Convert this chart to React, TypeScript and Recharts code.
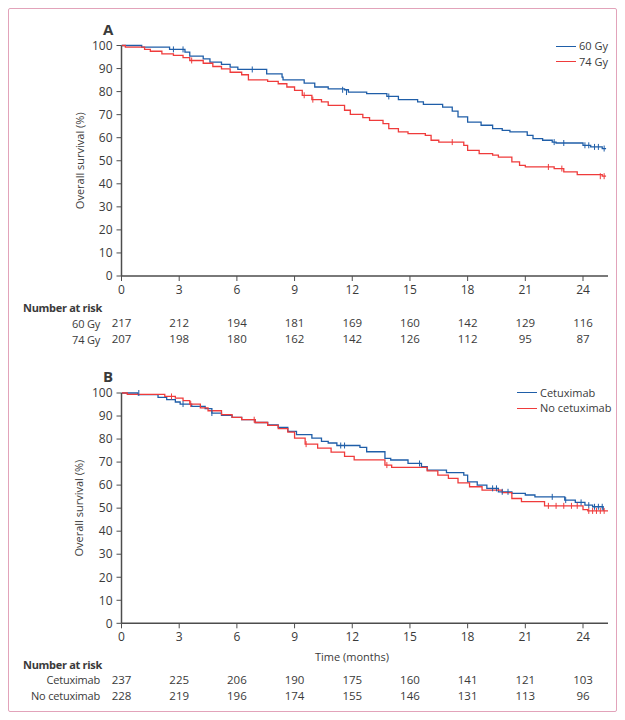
import React from 'react';
import { ComposedChart, Line, Scatter, XAxis, YAxis, Label } from 'recharts';

const FONT = '"Open Sans", "Noto Sans", sans-serif';
const TXT = '#3a3a3a';
const AXIS = '#4d4d4d';
const BLUE = '#1f5ea8';
const RED = '#ef3b3b';

const monthTicks = [0, 3, 6, 9, 12, 15, 18, 21, 24];
const survivalTicks = [0, 10, 20, 30, 40, 50, 60, 70, 80, 90, 100];

// Panel A: 60 Gy vs 74 Gy
const gy60Time = [0, 1.05, 2.5, 3.3, 3.55, 4.25, 4.6, 5.2, 5.65, 6.05, 7.55, 8.35, 8.4, 9.5, 10.05, 10.75, 11.6, 11.8, 12.75, 13.8, 14.4, 15.4, 15.7, 16.7, 17.2, 17.5, 18.0, 18.7, 19.3, 19.8, 20.2, 21.1, 21.4, 21.9, 22.4, 22.6, 24.0, 24.4, 25.0, 25.2];
const gy60Surv = [100, 99.3, 98.3, 97.1, 95.4, 94.2, 92.8, 91.8, 90.6, 89.6, 87.7, 86.3, 85.1, 83.7, 82, 81.2, 80.8, 79.8, 79.1, 77.9, 76.5, 75.5, 74.5, 73.3, 71.5, 69, 66.8, 65.4, 63.9, 63.2, 62.5, 61, 59.6, 58.9, 58.1, 57.7, 56.7, 56, 55.3, 55.3];
const gy60CensorTime = [2.7, 3.2, 6.8, 11.5, 11.7, 13.9, 22.5, 23.0, 24.1, 24.3, 24.6, 24.8, 25.1];
const gy60CensorSurv = [98.3, 98.3, 89.6, 80.8, 79.8, 77.9, 58.1, 57.7, 56.7, 56.7, 56, 56, 55.3];

const gy74Time = [0, 0.2, 1.2, 1.5, 2.1, 2.7, 3.2, 3.55, 4.25, 4.75, 5.2, 5.65, 6.25, 6.6, 7.6, 8.15, 8.6, 9.0, 9.4, 9.9, 10.4, 10.75, 11.6, 11.9, 12.55, 12.9, 13.6, 13.9, 14.4, 14.9, 15.8, 16.1, 16.5, 17.8, 18.0, 18.6, 19.3, 19.6, 20.3, 20.7, 21.0, 22.5, 23.0, 23.7, 25.0, 25.2];
const gy74Surv = [100, 99.3, 98.3, 97.5, 96.4, 95.7, 94.7, 93.5, 92.3, 90.9, 89.9, 88.4, 87.3, 85.1, 84.4, 83.4, 82, 80.5, 78.4, 76.5, 75.5, 74, 71.9, 70.1, 68.7, 67.5, 66.1, 63.9, 62.5, 61.8, 61, 58.9, 58.1, 56.7, 54.5, 53.1, 52.4, 51.6, 49.5, 48, 47.3, 46.6, 45.2, 44, 43.3, 43.3];
const gy74CensorTime = [3.65, 9.5, 9.95, 17.2, 22.2, 22.9, 24.9, 25.1];
const gy74CensorSurv = [93.5, 78.4, 76.5, 58.1, 47.3, 46.6, 43.3, 43.3];

const gy60AtRisk = [217, 212, 194, 181, 169, 160, 142, 129, 116];
const gy74AtRisk = [207, 198, 180, 162, 142, 126, 112, 95, 87];

// Panel B: cetuximab vs no cetuximab
const cetuxTime = [0, 0.85, 1.9, 2.35, 2.8, 3.05, 3.65, 4.35, 4.7, 5.2, 5.75, 6.25, 6.95, 7.6, 8.15, 8.65, 9.1, 9.9, 10.4, 10.75, 11.2, 12.4, 12.75, 13.7, 14.0, 14.9, 15.6, 15.9, 16.9, 17.8, 18.0, 18.5, 19.0, 19.6, 20.3, 21.0, 21.5, 23.05, 23.6, 24.1, 24.5, 25.05, 25.1];
const cetuxSurv = [100, 99.3, 98.1, 97.1, 96.1, 95.2, 94.2, 93.2, 91.3, 90.3, 89.4, 88.4, 87.2, 86.2, 85.1, 83.3, 81.9, 80.4, 79, 78.3, 77.2, 76.4, 74.5, 71.6, 70.9, 69.4, 68, 66.5, 65.4, 64.3, 61.4, 60, 58.6, 57.1, 56.4, 55.7, 54.9, 53.5, 52.5, 51.3, 50.6, 49.1, 49.1];
const cetuxCensorTime = [0.9, 3.2, 4.7, 11.4, 11.6, 15.5, 19.3, 19.5, 19.8, 20.1, 22.4, 23.1, 23.9, 24.3, 24.6, 24.8, 25.0];
const cetuxCensorSurv = [100, 95.2, 91.3, 77.2, 77.2, 69.4, 58.6, 58.6, 57.1, 57.1, 54.9, 53.5, 52.5, 51.3, 50.6, 50.6, 50.6];

const noCetuxTime = [0, 0.3, 2.25, 2.8, 3.2, 3.55, 4.1, 4.5, 5.2, 5.75, 6.25, 6.95, 7.6, 8.15, 8.65, 9.0, 9.55, 10.2, 10.9, 11.6, 12.1, 13.7, 14.05, 15.9, 16.45, 17.0, 17.5, 18.1, 18.75, 19.8, 20.3, 20.8, 22.0, 24.0, 24.25, 25.3];
const noCetuxSurv = [100, 99.4, 98.5, 97.8, 96.7, 95.2, 93.5, 92.3, 90.6, 89.4, 88.4, 87.2, 85.9, 84.5, 83, 80.4, 77.8, 76.1, 74.3, 72.5, 71, 68.7, 67.7, 66.2, 64.3, 62.9, 61, 59.3, 57.8, 56.7, 54.2, 52.8, 51, 49.4, 48.8, 48.8];
const noCetuxCensorTime = [2.6, 3.6, 6.9, 9.6, 13.8, 22.2, 22.6, 23.0, 23.4, 23.7, 24.3, 24.5, 24.7, 24.9, 25.1];
const noCetuxCensorSurv = [98.5, 95.2, 88.4, 77.8, 68.7, 51, 51, 51, 51, 51, 48.8, 48.8, 48.8, 48.8, 48.8];

const cetuxAtRisk = [237, 225, 206, 190, 175, 160, 141, 121, 103];
const noCetuxAtRisk = [228, 219, 196, 174, 155, 146, 131, 113, 96];

const toPoints = (time: number[], surv: number[]) => time.map((t, i) => ({ t, s: surv[i] }));

interface Series {
  name: string;
  color: string;
  time: number[];
  surv: number[];
  censorTime: number[];
  censorSurv: number[];
  atRisk: number[];
}

interface PanelProps {
  letter: string;
  top: number;
  height: number;
  marginTop: number;
  xAxisHeight: number;
  marginBottom: number;
  series: Series[];
  riskOffsets: number[];
  legendLeft: number;
  legendTop: number;
  riskHeaderY: number;
  riskRowY: number[];
  timeLabelY?: number;
}

function Panel(p: PanelProps) {
  const renderTick = (props: any) => {
    const { x, y, payload } = props;
    const idx = monthTicks.indexOf(payload.value);
    return (
      <g>
        <text x={x} y={y + 10.8} textAnchor="middle" fontSize={12} fill={TXT} fontFamily={FONT}>
          {payload.value}
        </text>
        {p.series.map((s, k) => (
          <text key={s.name} x={x} y={y + p.riskOffsets[k]} textAnchor="middle" fontSize={11.5} fill={TXT} fontFamily={FONT}>
            {s.atRisk[idx]}
          </text>
        ))}
      </g>
    );
  };

  const renderYLabel = (props: any) => {
    const vb = props.viewBox || { x: 0, y: p.marginTop, width: 121.5, height: 230 };
    const cx = 79;
    const cy = vb.y + vb.height / 2;
    return (
      <text x={cx} y={cy} transform={`rotate(-90 ${cx} ${cy})`} textAnchor="middle" dominantBaseline="central" fontSize={11} fill={TXT} fontFamily={FONT}>
        Overall survival (%)
      </text>
    );
  };

  const textStyle: React.CSSProperties = { position: 'absolute', fontFamily: FONT, color: TXT, fontSize: 11, lineHeight: '14px', whiteSpace: 'nowrap' };

  return (
    <>
      <div style={{ position: 'absolute', left: 0, top: p.top, width: 625, height: p.height }}>
        <ComposedChart width={625} height={p.height} margin={{ top: p.marginTop, right: 17, left: 0, bottom: p.marginBottom }}>
          <XAxis
            type="number"
            dataKey="t"
            domain={[0, 25.3]}
            ticks={monthTicks}
            allowDataOverflow
            height={p.xAxisHeight}
            axisLine={{ stroke: AXIS, strokeWidth: 1.5 }}
            tickLine={{ stroke: AXIS, strokeWidth: 1 }}
            tickSize={5}
            tickMargin={2}
            tick={renderTick}
            interval={0}
          />
          <YAxis
            type="number"
            domain={[0, 100]}
            ticks={survivalTicks}
            width={121.5}
            axisLine={{ stroke: AXIS, strokeWidth: 1.5 }}
            tickLine={{ stroke: AXIS, strokeWidth: 1 }}
            tickSize={5}
            tickMargin={4}
            tick={{ fontSize: 12, fill: TXT, fontFamily: FONT }}
            interval={0}
          >
            <Label content={renderYLabel} />
          </YAxis>
          {p.series.map((s) => (
            <Line
              key={s.name}
              data={toPoints(s.time, s.surv)}
              dataKey="s"
              type="stepAfter"
              stroke={s.color}
              strokeWidth={1.3}
              dot={false}
              activeDot={false}
              isAnimationActive={false}
            />
          ))}
          {p.series.map((s) => (
            <Scatter
              key={s.name + '-c'}
              data={toPoints(s.censorTime, s.censorSurv)}
              dataKey="s"
              isAnimationActive={false}
              shape={(sp: any) => (
                <line x1={sp.cx} x2={sp.cx} y1={sp.cy - 3} y2={sp.cy + 3} stroke={s.color} strokeWidth={1} />
              )}
            />
          ))}
        </ComposedChart>
      </div>

      <div style={{ ...textStyle, left: 103, top: p.top + p.marginTop - 26, fontSize: 15, fontWeight: 700, lineHeight: '18px' }}>{p.letter}</div>

      {p.series.map((s, k) => (
        <div key={s.name} style={{ ...textStyle, left: p.legendLeft, top: p.legendTop + k * 15.5 - 7 }}>
          <span style={{ display: 'inline-block', width: 20, height: 0, borderTop: `1.5px solid ${s.color}`, verticalAlign: 'middle', marginRight: 3, position: 'relative', top: -1 }} />
          {s.name}
        </div>
      ))}

      <div style={{ ...textStyle, left: 23, top: p.riskHeaderY - 7, fontWeight: 700, letterSpacing: -0.3 }}>Number at risk</div>
      {p.series.map((s, k) => (
        <div key={s.name + '-r'} style={{ ...textStyle, right: 625 - 100, top: p.riskRowY[k] - 7, letterSpacing: -0.2 }}>{s.name}</div>
      ))}
      {p.timeLabelY !== undefined && (
        <div style={{ ...textStyle, left: 315, top: p.timeLabelY - 7 }}>Time (months)</div>
      )}
    </>
  );
}

export default function App() {
  const seriesA: Series[] = [
    { name: '60 Gy', color: BLUE, time: gy60Time, surv: gy60Surv, censorTime: gy60CensorTime, censorSurv: gy60CensorSurv, atRisk: gy60AtRisk },
    { name: '74 Gy', color: RED, time: gy74Time, surv: gy74Surv, censorTime: gy74CensorTime, censorSurv: gy74CensorSurv, atRisk: gy74AtRisk },
  ];
  const seriesB: Series[] = [
    { name: 'Cetuximab', color: BLUE, time: cetuxTime, surv: cetuxSurv, censorTime: cetuxCensorTime, censorSurv: cetuxCensorSurv, atRisk: cetuxAtRisk },
    { name: 'No cetuximab', color: RED, time: noCetuxTime, surv: noCetuxSurv, censorTime: noCetuxCensorTime, censorSurv: noCetuxCensorSurv, atRisk: noCetuxAtRisk },
  ];

  return (
    <div style={{ position: 'absolute', left: 0, top: 0, width: 625, height: 720, background: '#fff', overflow: 'hidden' }}>
      <div style={{ position: 'absolute', left: 8, top: 8, width: 607, height: 702, border: '1px solid #e2a3ba', borderRadius: 2 }} />
      <Panel
        letter="A"
        top={0}
        height={350}
        marginTop={45.5}
        xAxisHeight={70}
        marginBottom={4}
        series={seriesA}
        riskOffsets={[44.4, 60.4]}
        legendLeft={556}
        legendTop={46}
        riskHeaderY={308}
        riskRowY={[323.5, 339.5]}
      />
      <Panel
        letter="B"
        top={350}
        height={370}
        marginTop={43}
        xAxisHeight={90}
        marginBottom={6.7}
        series={seriesB}
        riskOffsets={[53.7, 69.2]}
        legendLeft={517}
        legendTop={392.5}
        riskHeaderY={665}
        riskRowY={[680, 695.5]}
        timeLabelY={657}
      />
    </div>
  );
}
